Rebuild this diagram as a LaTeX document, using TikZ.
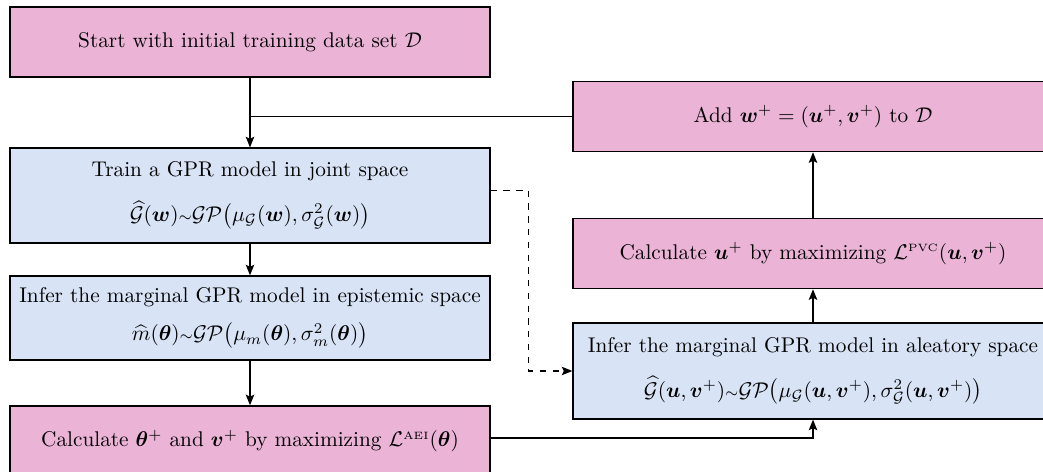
\documentclass[tikz,border=0pt]{standalone}
\usepackage{amsmath,bm}
\usetikzlibrary{arrows.meta,positioning}

\definecolor{pinkfill}{RGB}{235,180,215}
\definecolor{bluefill}{RGB}{216,227,245}

\tikzset{
  pinkbox/.style={draw, semithick, fill=pinkfill, minimum width=225.6pt,
    minimum height=33pt, align=center, inner sep=2pt},
  bluebox/.style={draw, semithick, fill=bluefill, minimum width=225.6pt,
    align=center, inner sep=2pt},
  flow/.style={semithick, ->}
}

\begin{document}
\begin{tikzpicture}[>={Stealth[length=5pt,width=4pt,inset=1pt]}, x=0.47pt, y=-0.47pt]

  % --------- frame of the picture ----------
  \useasboundingbox (0,0) rectangle (1043,472);
  % ----------------------------------------

  % ============== Left column =================
  \node[pinkbox] (start) at (250,42)
    {Start with initial training data set $\mathcal{D}$};

  \node[bluebox, minimum height=44.6pt] (train) at (250,195.5)
    {Train a GPR model in joint space\\[9pt]
     $\widehat{\mathcal{G}}(\bm{w}){\scriptstyle\sim}\mathcal{GP}\big(\mu_{\mathcal{G}}(\bm{w}),\sigma^2_{\mathcal{G}}(\bm{w})\big)$};

  \node[bluebox, minimum height=39.5pt] (infereps) at (250,318)
    {Infer the marginal GPR model in epistemic space\\[6pt]
     $\widehat{m}(\bm{\theta}){\scriptstyle\sim}\mathcal{GP}\big(\mu_{m}(\bm{\theta}),\sigma^2_{m}(\bm{\theta})\big)$};

  \node[pinkbox] (calctheta) at (250,441)
    {Calculate $\bm{\theta}^{+}$ and $\bm{v}^{+}$ by maximizing $\mathcal{L}^{\scriptscriptstyle\mathrm{AEI}}(\bm{\theta})$};

  % ============== Right column =================
  \node[pinkbox] (addw) at (813,116.5)
    {Add $\bm{w}^{+}=(\bm{u}^{+},\bm{v}^{+})$ to $\mathcal{D}$};

  \node[pinkbox] (calcu) at (813,253.5)
    {Calculate $\bm{u}^{+}$ by maximizing $\mathcal{L}^{\scriptscriptstyle\mathrm{PVC}}(\bm{u},\bm{v}^{+})$};

  \node[bluebox, minimum height=45.1pt] (inferale) at (813,371)
    {Infer the marginal GPR model in aleatory space\\[9pt]
     $\widehat{\mathcal{G}}(\bm{u},\bm{v}^{+}){\scriptstyle\sim}\mathcal{GP}\big(\mu_{\mathcal{G}}(\bm{u},\bm{v}^{+}),\sigma^2_{\mathcal{G}}(\bm{u},\bm{v}^{+})\big)$};

  % Flow down the left
  \draw[flow] (start) -- (train);
  \draw[flow] (train) -- (infereps);
  \draw[flow] (infereps) -- (calctheta);

  % Across and up the right
  \draw[flow] ([yshift=1.4pt]calctheta.east) -| (inferale.south);
  \draw[flow] (inferale) -- (calcu);
  \draw[flow] (calcu) -- (addw);

  % Back into the data set
  \coordinate (join) at (addw.west -| start.south);
  \draw[semithick] (addw.west) -- (join);

  % Dashed link from joint model
  \draw[flow, dashed] ([yshift=2.4pt]train.east) -- ++(38,0) |- (inferale.west);

\end{tikzpicture}
\end{document}
